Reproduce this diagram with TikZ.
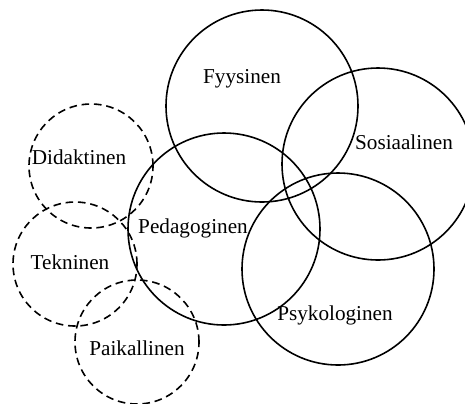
\documentclass[tikz,border=0pt]{standalone}
\usepackage{fontspec}
\setmainfont{Liberation Serif}
\usetikzlibrary{positioning}
\begin{document}
\begin{tikzpicture}[x=0.5pt,y=-0.5pt,font=\fontsize{10.6}{12}\selectfont]
\tikzstyle{area}=[circle,draw=black,line width=0.8pt,minimum size=96pt,inner sep=0pt]
\tikzstyle{extra}=[area,minimum size=62pt,dash pattern=on 3.8pt off 2.4pt]
\useasboundingbox (0,0) rectangle (465,403);

% main circles
\node[area] (fyys) at (262,106) {};
\node[area] (sos)  at (378,164) {};
\node[area] (ped)  at (224,229) {};
\node[area] (psyk) at (338,269) {};

% dashed circles
\node[extra] (did)  at (91,166) {};
\node[extra] (tek)  at (75,264) {};
\node[extra] (paik) at (137,342) {};

% labels
\node (fyys_l) at (242,79)  {Fyysinen};
\node (sos_l)  at (404,142) {Sosiaalinen};
\node (ped_l)  at (193,228) {Pedagoginen};
\node (psyk_l) at (335,315) {Psykologinen};
\node (did_l)  at (79,157)  {Didaktinen};
\node (tek_l)  at (70,262)  {Tekninen};
\node (paik_l) at (137,348) {Paikallinen};
\end{tikzpicture}
\end{document}
